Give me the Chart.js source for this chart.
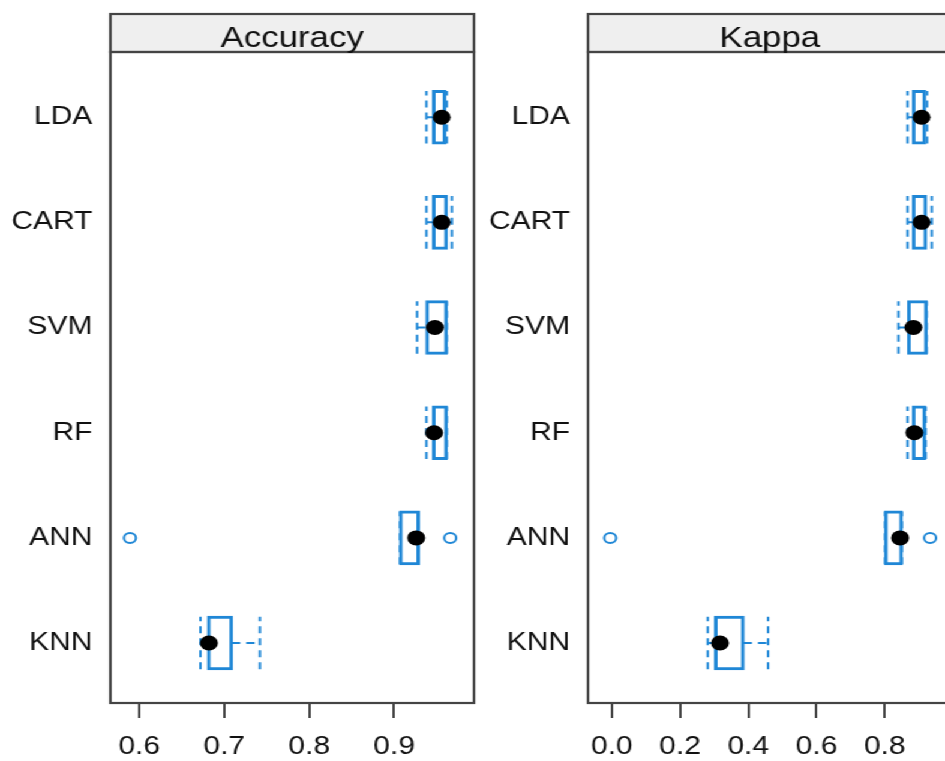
<!DOCTYPE html>
<html>
<head>
<meta charset="utf-8">
<script src="https://cdn.jsdelivr.net/npm/chart.js@4/dist/chart.umd.min.js"></script>
<style>
  html, body { margin: 0; padding: 0; background: #ffffff; overflow: hidden; }
  /* the two panels are laid out on a narrower sheet and widened horizontally */
  #sheet {
    position: absolute; left: 0; top: 0;
    width: 787.5px; height: 761px;
    overflow: hidden;
    transform: scaleX(1.2); transform-origin: 0 0;
  }
  #sheet canvas { position: absolute; top: 0; }
  #accCanvas { left: 0; }
  #kapCanvas { left: 398px; }
</style>
</head>
<body>
<div id="sheet">
  <canvas id="accCanvas" width="405" height="761"></canvas>
  <canvas id="kapCanvas" width="405" height="761"></canvas>
</div>
<script>
// Resampling results per model (top row first)
const categories = ['LDA', 'CART', 'SVM', 'RF', 'ANN', 'KNN'];

// Accuracy: whisker ends, hinges, medians and outlying points
const accMin    = [0.938, 0.938, 0.927, 0.938, 0.907, 0.672];
const accQ1     = [0.946, 0.946, 0.938, 0.946, 0.907, 0.681];
const accMedian = [0.956, 0.956, 0.948, 0.947, 0.926, 0.682];
const accQ3     = [0.960, 0.962, 0.962, 0.962, 0.929, 0.709];
const accMax    = [0.962, 0.968, 0.962, 0.962, 0.929, 0.742];
const accOutliers = [[], [], [], [], [0.589, 0.966], []];
const accTicks = [0.6, 0.7, 0.8, 0.9];

// Kappa
const kapMin    = [0.867, 0.867, 0.840, 0.867, 0.801, 0.281];
const kapQ1     = [0.883, 0.883, 0.869, 0.883, 0.801, 0.303];
const kapMedian = [0.908, 0.908, 0.884, 0.887, 0.845, 0.317];
const kapQ3     = [0.918, 0.921, 0.923, 0.918, 0.850, 0.386];
const kapMax    = [0.924, 0.938, 0.923, 0.920, 0.850, 0.458];
const kapOutliers = [[], [], [], [], [-0.005, 0.933], []];
const kapTicks = [0.0, 0.2, 0.4, 0.6, 0.8];

const BLUE = '#1f87d6';
const INK = '#111111';
const FRAME = '#444444';
const FONT = '"Liberation Sans", Arial, Helvetica, sans-serif';
const BOX_RATIO = 0.5;           // box height as a share of the row spacing
const HALF = BOX_RATIO / 2;

// Row position on the vertical axis: first category at the top
const rowOf = i => categories.length - i;
const GAP = { x: null, y: null };

function buildDatasets(s) {
  const boxes = categories.map((c, i) => ({ x: [s.q1[i], s.q3[i]], y: rowOf(i) }));
  const whiskers = [];
  const staples = [];
  categories.forEach((c, i) => {
    const y = rowOf(i);
    whiskers.push({ x: s.min[i], y }, { x: s.q1[i], y }, GAP,
                  { x: s.q3[i], y }, { x: s.max[i], y }, GAP);
    staples.push({ x: s.min[i], y: y - HALF }, { x: s.min[i], y: y + HALF }, GAP,
                 { x: s.max[i], y: y - HALF }, { x: s.max[i], y: y + HALF }, GAP);
  });
  const medians = categories.map((c, i) => ({ x: s.median[i], y: rowOf(i) }));
  const outliers = [];
  s.outliers.forEach((vals, i) => vals.forEach(v => outliers.push({ x: v, y: rowOf(i) })));

  return [
    { type: 'scatter', data: medians, pointRadius: 7.5, pointStyle: 'circle',
      pointBackgroundColor: '#000000', pointBorderColor: '#000000', pointBorderWidth: 0 },
    // 1px inner border grown by 1px outward: a 2px outline centred on the hinges
    { type: 'bar', indexAxis: 'y', data: boxes, backgroundColor: 'rgba(0,0,0,0)',
      borderColor: BLUE, borderWidth: 1, borderSkipped: false, inflateAmount: 1,
      categoryPercentage: 1, barPercentage: BOX_RATIO },
    { type: 'line', data: whiskers, borderColor: BLUE, borderWidth: 2,
      borderDash: [7, 5], pointRadius: 0, spanGaps: false, fill: false, tension: 0 },
    { type: 'line', data: staples, borderColor: BLUE, borderWidth: 2,
      borderDash: [7, 5], pointRadius: 0, spanGaps: false, fill: false, tension: 0 },
    { type: 'scatter', data: outliers, pointRadius: 5, pointStyle: 'circle',
      pointBackgroundColor: 'rgba(255,255,255,0)', pointBorderColor: BLUE, pointBorderWidth: 2 }
  ];
}

// Panel border plus the grey strip carrying the panel name
const panelFrame = {
  id: 'panelFrame',
  afterDraw(chart, args, opts) {
    const { ctx, chartArea: a } = chart;
    const w = a.right - a.left;
    ctx.save();
    ctx.fillStyle = '#efefef';
    ctx.fillRect(a.left, opts.stripTop, w, a.top - opts.stripTop);
    ctx.lineWidth = 2.2;
    ctx.strokeStyle = FRAME;
    ctx.strokeRect(a.left, opts.stripTop, w, a.top - opts.stripTop);
    ctx.strokeRect(a.left, a.top, w, a.bottom - a.top);
    ctx.fillStyle = INK;
    ctx.font = '29px ' + FONT;
    ctx.textAlign = 'center';
    ctx.textBaseline = 'alphabetic';
    ctx.fillText(opts.title, (a.left + a.right) / 2, a.top - 5.5);
    ctx.restore();
  }
};

function makePanel(canvasId, title, stats, ticks, xMin, xMax) {
  return new Chart(document.getElementById(canvasId), {
    type: 'scatter',
    data: { datasets: buildDatasets(stats) },
    plugins: [panelFrame],
    options: {
      responsive: false,
      animation: false,
      events: [],
      layout: { padding: { top: 52, right: 10, left: 0, bottom: 0 } },
      plugins: {
        legend: { display: false },
        tooltip: { enabled: false },
        panelFrame: { title: title, stripTop: 14 }
      },
      scales: {
        x: {
          type: 'linear', min: xMin, max: xMax, offset: false,
          afterBuildTicks: sc => { sc.ticks = ticks.map(v => ({ value: v })); },
          afterFit: sc => { sc.height = 58; },
          grid: { drawOnChartArea: false, drawTicks: true, tickLength: 15,
                  color: FRAME, lineWidth: 2, offset: false },
          border: { display: false },
          ticks: { color: INK, font: { family: FONT, size: 25 }, padding: 14,
                   maxRotation: 0, autoSkip: false,
                   callback: v => Number(v).toFixed(1) }
        },
        y: {
          type: 'linear', min: 0.43, max: 6.62, offset: false,
          afterBuildTicks: sc => { sc.ticks = categories.map((c, i) => ({ value: rowOf(i) })); },
          afterFit: sc => { sc.width = 92; },
          grid: { display: false, drawTicks: false, offset: false },
          border: { display: false },
          ticks: { color: INK, font: { family: FONT, size: 25 }, padding: 15, autoSkip: false,
                   callback: v => categories[categories.length - v] }
        }
      }
    }
  });
}

makePanel('accCanvas', 'Accuracy', {
  min: accMin, q1: accQ1, median: accMedian, q3: accQ3, max: accMax, outliers: accOutliers
}, accTicks, 0.566, 0.994);

makePanel('kapCanvas', 'Kappa', {
  min: kapMin, q1: kapQ1, median: kapMedian, q3: kapQ3, max: kapMax, outliers: kapOutliers
}, kapTicks, -0.070, 0.996);
</script>
</body>
</html>
